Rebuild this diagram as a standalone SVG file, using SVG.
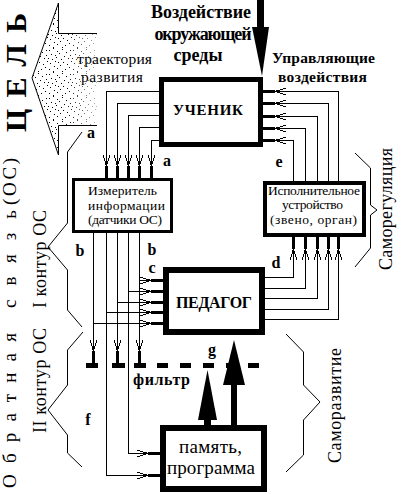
<svg xmlns="http://www.w3.org/2000/svg" width="416" height="494" viewBox="0 0 416 494" font-family="Liberation Serif, serif">
<defs>
<style>
.b{font-weight:bold}
.ln{fill:none;stroke:#000;stroke-width:1}
.box{fill:#fff;stroke:#000}
.lab{font-weight:bold;font-size:16px;text-anchor:middle}
</style>
<g id="fork">
<line x1="0" y1="0" x2="12" y2="0" stroke="#000" stroke-width="3"/>
<path d="M12,0 L23,-3.5 M12,0 L23,0 M12,0 L23,3.5" stroke="#000" stroke-width="1" fill="none"/>
</g>
<pattern id="stip" width="24" height="24" patternUnits="userSpaceOnUse">
<rect x="1" y="2" width="1" height="1"/><rect x="5" y="0" width="1" height="1"/><rect x="9" y="3" width="1" height="1"/>
<rect x="3" y="6" width="1" height="1"/><rect x="7" y="7" width="1" height="1"/><rect x="11" y="5" width="1" height="1"/>
<rect x="0" y="10" width="1" height="1"/><rect x="4" y="11" width="1" height="1"/><rect x="8" y="9" width="1" height="1"/>
<rect x="14" y="1" width="1" height="1"/><rect x="18" y="4" width="1" height="1"/><rect x="22" y="2" width="1" height="1"/>
<rect x="16" y="8" width="1" height="1"/><rect x="20" y="10" width="1" height="1"/><rect x="13" y="11" width="1" height="1"/>
<rect x="2" y="15" width="1" height="1"/><rect x="6" y="18" width="1" height="1"/><rect x="10" y="14" width="1" height="1"/>
<rect x="1" y="21" width="1" height="1"/><rect x="9" y="20" width="1" height="1"/><rect x="12" y="17" width="1" height="1"/>
<rect x="15" y="14" width="1" height="1"/><rect x="19" y="16" width="1" height="1"/><rect x="23" y="13" width="1" height="1"/>
<rect x="17" y="21" width="1" height="1"/><rect x="21" y="19" width="1" height="1"/><rect x="14" y="23" width="1" height="1"/>
<rect x="5" y="23" width="1" height="1"/><rect x="22" y="7" width="1" height="1"/><rect x="7" y="13" width="1" height="1"/>
</pattern>
<linearGradient id="fade" gradientUnits="userSpaceOnUse" x1="30" y1="0" x2="100" y2="0">
<stop offset="0" stop-color="#fff"/><stop offset="0.5" stop-color="#fff"/><stop offset="1" stop-color="#333"/>
</linearGradient>
<mask id="fm"><rect x="0" y="0" width="110" height="160" fill="url(#fade)"/></mask>
</defs>
<rect width="416" height="494" fill="#fff"/>

<!-- goal arrow -->
<g id="goal">
<polygon points="32,78 58,3 58,33 97,33 97,125 58,125 58,155" fill="url(#stip)" mask="url(#fm)"/>
<path class="ln" d="M97,33.5 H58.5 V3 L32,78 L58.5,155 V125.5 H97"/>
<text class="b" font-size="30" transform="translate(26,132) rotate(-90)" textLength="119" lengthAdjust="spacing">ЦЕЛЬ</text>
<text font-size="15.5" x="77" y="64" textLength="75" lengthAdjust="spacing">траектория</text>
<text font-size="15.5" x="81" y="82" textLength="62" lengthAdjust="spacing">развития</text>
</g>

<!-- side labels -->
<g id="side-labels">
<text font-size="19" transform="translate(16,488) rotate(-90)" textLength="155" lengthAdjust="spacing">Обратная</text>
<text font-size="19" transform="translate(16,308) rotate(-90)" textLength="98" lengthAdjust="spacing">связь</text>
<text font-size="19" transform="translate(16,205) rotate(-90)" textLength="47" lengthAdjust="spacing">(ОС)</text>
<text font-size="18" transform="translate(45.5,308) rotate(-90)" textLength="98" lengthAdjust="spacing">I контур ОС</text>
<text font-size="18" transform="translate(45.5,433) rotate(-90)" textLength="105" lengthAdjust="spacing">II контур ОС</text>
<text font-size="18" transform="translate(392,270) rotate(-90)" textLength="122" lengthAdjust="spacing">Саморегуляция</text>
<text font-size="18" transform="translate(341,463) rotate(-90)" textLength="115" lengthAdjust="spacing">Саморазвитие</text>
<path class="ln" d="M82,132 L67.5,152 V223 L48,247 L67.5,270 V310 L82,327"/>
<path class="ln" d="M83,332 L67.5,350 V385 L48,410 L67.5,435 V453 L82,467"/>
<path class="ln" d="M355,153 L370.5,168 V205 L377,210 L370.5,215 V248 L355,267"/>
<path class="ln" d="M286,334 L303.5,352 V385 L320,402 L303.5,420 V455 L286,472"/>
</g>

<!-- environment arrow & texts -->
<g id="environment">
<rect x="257" y="0" width="7" height="28" fill="#000"/>
<polygon points="252,27 269,27 262,76" fill="#000"/>
<text class="b" font-size="18" x="201" y="18" text-anchor="middle" textLength="100" lengthAdjust="spacing">Воздействие</text>
<text class="b" font-size="18" x="203" y="40" text-anchor="middle" textLength="97" lengthAdjust="spacing">окружающей</text>
<text class="b" font-size="18" x="198" y="61" text-anchor="middle" textLength="49" lengthAdjust="spacing">среды</text>
<text class="b" font-size="15.5" x="272" y="63" textLength="103" lengthAdjust="spacing">Управляющие</text>
<text class="b" font-size="15.5" x="278" y="82" textLength="89" lengthAdjust="spacing">воздействия</text>
</g>

<!-- connectors -->
<g id="connectors" shape-rendering="crispEdges">
<path class="ln" d="M159,91.5 H106.5 V155 M159,103.5 H117.5 V155 M159,115.5 H128.5 V155 M159,127.5 H139.5 V155 M159,140.5 H151.5 V155"/>
<path class="ln" d="M286,91.5 H338.5 V181 M286,103.5 H328.5 V181 M286,116.5 H317.5 V181 M286,128.5 H305.5 V181 M286,140.5 H293.5 V181"/>
<path class="ln" d="M293.5,260 V277.5 H265 M305.5,260 V288.5 H265 M317.5,260 V298.5 H265 M328.5,260 V309.5 H265 M338.5,260 V319.5 H265"/>
<path class="ln" d="M93.5,233 V340 M106.5,233 V475.5 H137 M117.5,233 V340 M128.5,233 V453.5 H137 M139.5,233 V340"/>
<path class="ln" d="M139.5,280.5 H140 M128.5,291.5 H140 M117.5,302.5 H140 M106.5,312.5 H140 M93.5,323.5 H140"/>
<use href="#fork" transform="translate(263,91.5)"/>
<use href="#fork" transform="translate(263,103.5)"/>
<use href="#fork" transform="translate(263,116.5)"/>
<use href="#fork" transform="translate(263,128.5)"/>
<use href="#fork" transform="translate(263,140.5)"/>
<use href="#fork" transform="translate(106.5,178) rotate(-90)"/>
<use href="#fork" transform="translate(117.5,178) rotate(-90)"/>
<use href="#fork" transform="translate(128.5,178) rotate(-90)"/>
<use href="#fork" transform="translate(139.5,178) rotate(-90)"/>
<use href="#fork" transform="translate(151.5,178) rotate(-90)"/>
<use href="#fork" transform="translate(293.5,237) rotate(90)"/>
<use href="#fork" transform="translate(305.5,237) rotate(90)"/>
<use href="#fork" transform="translate(317.5,237) rotate(90)"/>
<use href="#fork" transform="translate(328.5,237) rotate(90)"/>
<use href="#fork" transform="translate(338.5,237) rotate(90)"/>
<use href="#fork" transform="translate(163,280.5) rotate(180)"/>
<use href="#fork" transform="translate(163,291.5) rotate(180)"/>
<use href="#fork" transform="translate(163,302.5) rotate(180)"/>
<use href="#fork" transform="translate(163,312.5) rotate(180)"/>
<use href="#fork" transform="translate(163,323.5) rotate(180)"/>
<use href="#fork" transform="translate(160,453.5) rotate(180)"/>
<use href="#fork" transform="translate(160,475.5) rotate(180)"/>
<use href="#fork" transform="translate(93.5,363) rotate(-90)"/>
<use href="#fork" transform="translate(117.5,363) rotate(-90)"/>
<use href="#fork" transform="translate(139.5,363) rotate(-90)"/>
</g>

<!-- filter -->
<g id="filter">
<rect x="86" y="363" width="12" height="5"/>
<rect x="112" y="363" width="13" height="5"/>
<rect x="134" y="363" width="12" height="5"/>
<rect x="157" y="363" width="11" height="5"/>
<rect x="180" y="363" width="11" height="5"/>
<rect x="203" y="363" width="11" height="5"/>
<rect x="226" y="363" width="10" height="5"/>
<rect x="248" y="363" width="11" height="5"/>
<text class="b" font-size="16" x="133" y="385" textLength="57" lengthAdjust="spacing">фильтр</text>
</g>

<!-- memory arrows -->
<g id="memory-arrows">
<rect x="204" y="418" width="7" height="9"/>
<polygon points="207.5,370 217,420 198,420"/>
<rect x="231" y="383" width="6" height="44"/>
<polygon points="234,340 245,385 223,385"/>
</g>

<g id="learner">
<rect class="box" x="161.5" y="79.5" width="99" height="65" stroke-width="5"/>
<text class="b" font-size="15" x="208" y="115" text-anchor="middle" textLength="70" lengthAdjust="spacing">УЧЕНИК</text>
</g>

<g id="meter">
<rect class="box" x="73.5" y="179.5" width="98" height="52" stroke-width="3"/>
<text font-size="13.5" x="122.5" y="195" text-anchor="middle" textLength="69" lengthAdjust="spacing">Измеритель</text>
<text font-size="13.5" x="126.5" y="210" text-anchor="middle" textLength="77" lengthAdjust="spacing">информации</text>
<text font-size="13.5" x="125" y="224" text-anchor="middle" textLength="74" lengthAdjust="spacing">(датчики ОС)</text>
</g>

<g id="actuator">
<rect class="box" x="265" y="183" width="99" height="52" stroke-width="4"/>
<text font-size="13.5" x="314" y="195" text-anchor="middle" textLength="92" lengthAdjust="spacing">Исполнительное</text>
<text font-size="13.5" x="312.5" y="209" text-anchor="middle" textLength="61" lengthAdjust="spacing">устройство</text>
<text font-size="13.5" x="313.5" y="224" text-anchor="middle" textLength="87" lengthAdjust="spacing">(звено, орган)</text>
</g>

<g id="teacher">
<rect class="box" x="166" y="270" width="96" height="62" stroke-width="6"/>
<text class="b" font-size="16" x="214" y="308" text-anchor="middle" textLength="76" lengthAdjust="spacing">ПЕДАГОГ</text>
</g>

<g id="memory">
<rect class="box" x="163" y="428" width="101" height="61" stroke-width="6"/>
<text font-size="19" x="179" y="453" textLength="63" lengthAdjust="spacing">память,</text>
<text font-size="19" x="167" y="474" textLength="88" lengthAdjust="spacing">программа</text>
</g>

<g id="labels">
<text class="lab" x="91" y="138">a</text>
<text class="lab" x="167" y="166">a</text>
<text class="lab" x="80" y="256">b</text>
<text class="lab" x="152" y="255">b</text>
<text class="lab" x="152" y="273">c</text>
<text class="lab" x="276" y="268">d</text>
<text class="lab" x="279" y="167">e</text>
<text class="lab" x="88" y="425">f</text>
<text class="lab" x="212" y="355">g</text>
</g>
</svg>
